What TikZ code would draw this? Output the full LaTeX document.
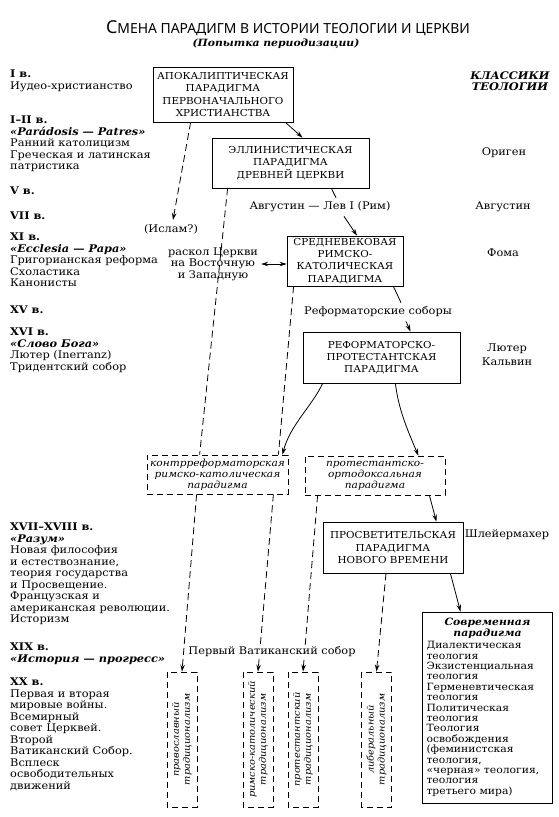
\documentclass[tikz,border=0pt]{standalone}
\usepackage{fontspec}
\setmainfont{DejaVu Serif}[FakeStretch=1.08]
\newfontfamily\titlefont{Noto Sans}
\usetikzlibrary{arrows.meta, calc, positioning}
\newcommand{\tsize}{\fontsize{10.5}{11.5}\selectfont}
\newcommand{\bsize}{\fontsize{9.6}{12.3}\selectfont}
\newcommand{\per}[1]{\textbf{#1}}
\newcommand{\motto}[1]{\textbf{\textit{#1}}}

\begin{document}
\begin{tikzpicture}[x=1pt, y=-1pt,
	every node/.style={inner sep=0pt},
	parbox/.style={draw, line width=0.8pt, align=center, font=\bsize},
	dashbox/.style={draw, line width=0.8pt, dash pattern=on 6pt off 4pt, align=center, font=\fontsize{9.8}{11}\selectfont\itshape},
	tradbox/.style={dashbox, rotate=90, minimum width=135pt, minimum height=30pt, font=\fontsize{9.1}{11}\selectfont\itshape},
	lefttxt/.style={anchor=north west, align=left, font=\tsize},
	rtxt/.style={align=center, font=\tsize},
	arr/.style={line width=0.8pt, -{Stealth[length=7pt, width=4.5pt]}},
	dline/.style={line width=0.8pt, dash pattern=on 7pt off 4pt},
	darr/.style={dline, -{Stealth[length=7pt, width=4.5pt]}}]
		\useasboundingbox (0,0) rectangle (558,817);
		
		\node[font=\titlefont\fontsize{13.9}{15}\selectfont] (title) at (288,28) {{\fontsize{17.8}{18}\selectfont С}МЕНА ПАРАДИГМ В ИСТОРИИ ТЕОЛОГИИ И ЦЕРКВИ};
		\node[font=\fontsize{10}{12}\selectfont\bfseries\itshape] (subtitle) at (276,44) {(Попытка периодизации)};
		
		\node[lefttxt] (p1) at (10,70) {\per{I в.}\\Иудео-христианство};
		\node[lefttxt] (p2) at (10,116) {\per{I–II в.}\\\motto{«Parádosis — Patres»}\\Ранний католицизм\\Греческая и латинская\\патристика};
		\node[lefttxt] (p5) at (10,187) {\per{V в.}};
		\node[lefttxt] (p7) at (10,212) {\per{VII в.}};
		\node[lefttxt] (p11) at (10,233) {\per{XI в.}\\\motto{«Ecclesia — Papa»}\\Григорианская реформа\\Схоластика\\Канонисты};
		\node[lefttxt] (p15) at (10,306) {\per{XV в.}};
		\node[lefttxt] (p16) at (10,328) {\per{XVI в.}\\\motto{«Слово Бога»}\\Лютер (Inerranz)\\Тридентский собор};
		\node[lefttxt] (p17) at (10,523) {\per{XVII–XVIII в.}\\\motto{«Разум»}\\Новая философия\\и естествознание,\\теория государства\\и Просвещение.\\Французская и\\американская революции.\\Историзм};
		\node[lefttxt] (p19) at (10,643) {\per{XIX в.}\\\motto{«История — прогресс»}};
		\node[lefttxt] (p20) at (10,678) {\per{XX в.}\\Первая и вторая\\мировые войны.\\Всемирный\\совет Церквей.\\Второй\\Ватиканский Собор.\\Всплеск\\освободительных\\движений};
		
		\node[rtxt, font=\tsize\bfseries\itshape] (klass) at (510,81) {КЛАССИКИ\\ТЕОЛОГИИ};
		\node[rtxt] (origen) at (504,153) {Ориген};
		\node[rtxt] (avgust) at (503,207) {Августин};
		\node[rtxt] (foma) at (503,253) {Фома};
		\node[rtxt] (luther) at (507,355) {Лютер\\[2.5pt]Кальвин};
		\node[rtxt] (schleier) at (507,535) {Шлейермахер};
		
		\node[parbox, minimum width=140pt, minimum height=55pt] (apok) at (223,94.5) {АПОКАЛИПТИЧЕСКАЯ\\ПАРАДИГМА\\ПЕРВОНАЧАЛЬНОГО\\ХРИСТИАНСТВА};
		\node[parbox, minimum width=157pt, minimum height=50pt] (ellin) at (290.5,163) {ЭЛЛИНИСТИЧЕСКАЯ\\ПАРАДИГМА\\ДРЕВНЕЙ ЦЕРКВИ};
		\node[parbox, minimum width=116pt, minimum height=50pt] (sredn) at (345,261) {СРЕДНЕВЕКОВАЯ\\РИМСКО-\\КАТОЛИЧЕСКАЯ\\ПАРАДИГМА};
		\node[parbox, minimum width=157pt, minimum height=51pt] (refprot) at (381.5,357.5) {РЕФОРМАТОРСКО-\\ПРОТЕСТАНТСКАЯ\\ПАРАДИГМА};
		\node[dashbox, minimum width=141pt, minimum height=39pt] (kontr) at (217.5,474.5) {контрреформаторская\\римско-католическая\\парадигма};
		\node[dashbox, minimum width=140pt, minimum height=39pt] (protort) at (375,475.5) {протестантско-\\ортодоксальная\\парадигма};
		\node[parbox, minimum width=140pt, minimum height=51pt] (prosv) at (393,547.5) {ПРОСВЕТИТЕЛЬСКАЯ\\ПАРАДИГМА\\НОВОГО ВРЕМЕНИ};
		\node[draw, line width=0.8pt, text width=122pt, inner xsep=4pt, minimum height=191pt, align=left, font=\fontsize{10}{10.4}\selectfont] (sovr) at (487.5,707.5) {\makebox[\linewidth]{\bfseries\itshape Современная}\\\makebox[\linewidth]{\bfseries\itshape парадигма}\\[2pt]Диалектическая\\теология\\Экзистенциальная\\теология\\Герменевтическая\\теология\\Политическая\\теология\\Теология\\освобождения\\(феминистская\\теология,\\«черная» теология,\\теология\\третьего мира)};
		
		\node[tradbox] (prav) at (182,739.5) {православный\\традиционализм};
		\node[tradbox] (rkat) at (258,739.5) {римско-католический\\традиционализм};
		\node[tradbox] (prot) at (303,739.5) {протестантский\\традиционализм};
		\node[tradbox] (lib) at (376.5,739.5) {либеральный\\традиционализм};
		
		\node[rtxt] (islam) at (171,229) {(Ислам?)};
		\node[rtxt] (raskol) at (213,264) {раскол Церкви\\на Восточную\\и Западную};
		\node[rtxt] (avg) at (320,207) {Августин — Лев I (Рим)};
		\node[rtxt] (refsob) at (378,312) {Реформаторские соборы};
		
		\draw[arr] ($(apok.south east)+(-8,0)$) -- ($(ellin.north)+(12,0)$);
		\draw[darr] ($(apok.south west)+(38,0)$) -- ($(islam.north)+(2,-4)$);
		\draw[dline] ($(ellin.south west)+(16,0)$) -- ($(kontr.north west)+(53,0)$);
		\draw[line width=0.8pt] ($(ellin.south east)+(-38,0)$) -- ($(avg.north)+(16,-4)$);
		\draw[arr] ($(avg.south)+(24,4)$) -- ($(sredn.north)+(12,0)$);
		\draw[line width=0.8pt, {Stealth[length=7pt, width=4.5pt]}-{Stealth[length=7pt, width=4.5pt]}] ($(raskol.east)+(3,0)$) -- (raskol.east -| sredn.west);
		\draw[dline] ($(sredn.south west)+(7,0)$) -- ($(kontr.north east)+(-10,0)$);
		\draw[line width=0.8pt] ($(sredn.south east)+(-10,0)$) -- ($(refsob.north)+(23,-4)$);
		\draw[arr] ($(refsob.south)+(28,4)$) -- ($(refprot.north)+(29,0)$);
		\draw[arr] ($(refprot.south west)+(20,0)$) .. controls +(-10,22) and +(8,-30) .. ($(kontr.north east)+(-6,0)$);
		\draw[arr] ($(refprot.south east)+(-65,0)$) .. controls +(3,25) and +(-12,-28) .. ($(protort.north east)+(-27,0)$);
		\draw[darr] ($(kontr.south west)+(50,0)$) -- (prav.east);
		\draw[darr] ($(kontr.south east)+(-15,0)$) -- (rkat.east);
		\draw[darr] ($(protort.south west)+(13,0)$) -- (prot.east);
		\draw[arr] ($(protort.south east)+(-16,0)$) -- ($(prosv.north east)+(-27,0)$);
		\draw[darr] ($(prosv.south)+(-7,0)$) -- (lib.east);
		\draw[arr] ($(prosv.south east)+(-13,0)$) -- ($(sovr.north)+(-27,0)$);
		
		\node[rtxt, fill=white, inner sep=1pt] (vat) at (272,652) {Первый Ватиканский собор};
\end{tikzpicture}
\end{document}
